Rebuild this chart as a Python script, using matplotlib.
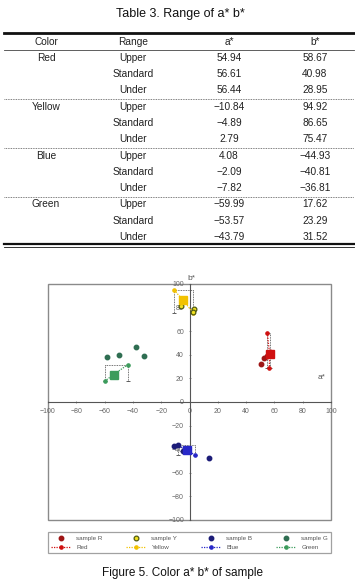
import matplotlib
matplotlib.use('Agg')

import numpy as np
import matplotlib.pyplot as plt
from matplotlib.lines import Line2D
from matplotlib.patches import Rectangle

plt.rcParams['font.family'] = ['Liberation Sans', 'DejaVu Sans']

# table data
colors = ['Red', 'Yellow', 'Blue', 'Green']
ranges = ['Upper', 'Standard', 'Under']
a_vals = {
    'Red': [54.94, 56.61, 56.44],
    'Yellow': [-10.84, -4.89, 2.79],
    'Blue': [4.08, -2.09, -7.82],
    'Green': [-59.99, -53.57, -43.79],
}
b_vals = {
    'Red': [58.67, 40.98, 28.95],
    'Yellow': [94.92, 86.65, 75.47],
    'Blue': [-44.93, -40.81, -36.81],
    'Green': [17.62, 23.29, 31.52],
}

sample_a = {
    'R': [50.5, 53.0, 54.5, 57.0],
    'Y': [-6.0, 3.0, 2.7],
    'B': [-11.0, -8.0, -4.5, 13.8],
    'G': [-58.0, -50.0, -38.0, -32.0],
}
sample_b = {
    'R': [32.5, 37.5, 39.0, 42.0],
    'Y': [81.0, 78.5, 76.5],
    'B': [-37.5, -36.5, -41.5, -47.5],
    'G': [38.5, 40.0, 47.0, 39.0],
}

sample_col = {'R': '#9e1515', 'Y': '#a8b41e', 'B': '#1c1c78', 'G': '#2f6e52'}
line_col = {'Red': '#d01010', 'Yellow': '#f2c200', 'Blue': '#2828c8', 'Green': '#3c9c5c'}

W, H = 355, 580
fig = plt.figure(figsize=(W / 100, H / 100), dpi=100)


def fx(px):
    return px / W


def fy(py):
    return 1 - py / H


def hline(y, x0, x1, **kw):
    fig.add_artist(Line2D([fx(x0), fx(x1)], [fy(y), fy(y)], transform=fig.transFigure, **kw))


# ---------------- table ----------------
txt = '#222222'
fig.text(fx(180), fy(14), 'Table 3. Range of a* b*', ha='center', va='center',
         fontsize=9, color='#111111')

hline(32.5, 4, 354, color='#111111', lw=2.0)
hline(49.5, 4, 354, color='#444444', lw=0.6)

col_x = [46, 133, 229, 315]
headers = ['Color', 'Range', 'a*', 'b*']
for x, h in zip(col_x, headers):
    fig.text(fx(x), fy(42), h, ha='center', va='center', fontsize=7.3, color=txt)

row_h = 16.2
y = 58
for gi, c in enumerate(colors):
    for ri, r in enumerate(ranges):
        if ri == 0:
            fig.text(fx(col_x[0]), fy(y), c, ha='center', va='center', fontsize=7.3, color=txt)
        fig.text(fx(col_x[1]), fy(y), r, ha='center', va='center', fontsize=7.3, color=txt)
        fig.text(fx(col_x[2]), fy(y), f'{a_vals[c][ri]:.2f}'.replace('-', '\u2212'),
                 ha='center', va='center', fontsize=7.3, color=txt)
        fig.text(fx(col_x[3]), fy(y), f'{b_vals[c][ri]:.2f}'.replace('-', '\u2212'),
                 ha='center', va='center', fontsize=7.3, color=txt)
        y += row_h
    if gi < len(colors) - 1:
        hline(y - 8.2 + 0.5, 4, 354, color='#555555', lw=0.6, ls=(0, (1, 1)))
        y += 0.2

hline(243.8, 4, 354, color='#111111', lw=1.6)
hline(246.6, 4, 354, color='#111111', lw=0.6)

# ---------------- chart ----------------
ax = fig.add_axes([fx(48), fy(520), fx(331) - fx(48), fy(284) - fy(520)])
ax.set_xlim(-100, 100)
ax.set_ylim(-100, 100)
ax.set_facecolor('white')

for s in ['top', 'right']:
    ax.spines[s].set_visible(False)
ax.spines['left'].set_position(('data', 0))
ax.spines['bottom'].set_position(('data', 0))
for s in ['left', 'bottom']:
    ax.spines[s].set_color('#555555')
    ax.spines[s].set_linewidth(0.8)

ax.add_patch(Rectangle((0, 0), 1, 1, transform=ax.transAxes, fill=False,
                       edgecolor='#8a8a8a', lw=1.0, clip_on=False, zorder=0))

ticks = np.arange(-100, 101, 20)
ax.set_xticks(ticks)
ax.set_yticks(ticks)
ax.tick_params(axis='both', labelsize=5, colors='#666666', length=2, width=0.5,
               direction='inout', pad=3)

# range brackets (dotted)
for c in colors:
    a = a_vals[c]
    b = b_vals[c]
    a0, a1 = min(a), max(a)
    b0, b1 = min(b), max(b)
    ax.plot([a0, a1], [b1, b1], color='#444444', lw=0.6, ls=(0, (1, 1)), zorder=2)
    ax.plot([a0, a0], [b1, b0], color='#444444', lw=0.6, ls=(0, (1, 1)), zorder=2)
    ax.plot([a1, a1], [b1, b0], color='#444444', lw=0.6, ls=(0, (1, 1)), zorder=2)
    ax.plot([a0, a1], [b0, b0], ls='none', marker='_', ms=3, mew=0.6, color='#444444', zorder=2)

handles = []
labels = []
for key, c in zip(['R', 'Y', 'B', 'G'], colors):
    if key == 'Y':
        hs, = ax.plot(sample_a[key], sample_b[key], ls='none', marker='o', ms=3.4,
                      mfc='#f0e020', mec='#505a10', mew=0.9, zorder=4)
    else:
        hs, = ax.plot(sample_a[key], sample_b[key], ls='none', marker='o', ms=3.2,
                      color=sample_col[key], zorder=4)
    hl, = ax.plot(a_vals[c], b_vals[c], color=line_col[c], ls=(0, (1, 1)), lw=0.9,
                  marker='o', ms=2.3, zorder=3)
    ax.plot([a_vals[c][1]], [b_vals[c][1]], ls='none', marker='s', ms=5.2,
            color=line_col[c], zorder=5)
    handles += [hs, hl]
    labels += ['sample ' + key, c]

ax.text(1, 102, 'b*', fontsize=6, color='#555555', ha='center', va='bottom')
ax.text(93, 20.5, 'a*', fontsize=6, color='#555555', ha='center', va='center')

leg = fig.legend(handles, labels, ncol=4, loc='lower left',
                 bbox_to_anchor=(fx(48), fy(553), fx(331) - fx(48), fy(529) - fy(553)),
                 mode='expand', borderaxespad=0, fontsize=4.5, handlelength=3.2,
                 fancybox=False, edgecolor='#8a8a8a', labelspacing=0.6,
                 handletextpad=0.8, borderpad=0.5, labelcolor='#555555')
leg.get_frame().set_linewidth(0.9)

fig.text(fx(182), fy(579), 'Figure 5. Color a* b* of sample', ha='center', va='bottom',
         fontsize=8.5, color='#111111')

fig.savefig('out.png', dpi=100)
plt.close(fig)
